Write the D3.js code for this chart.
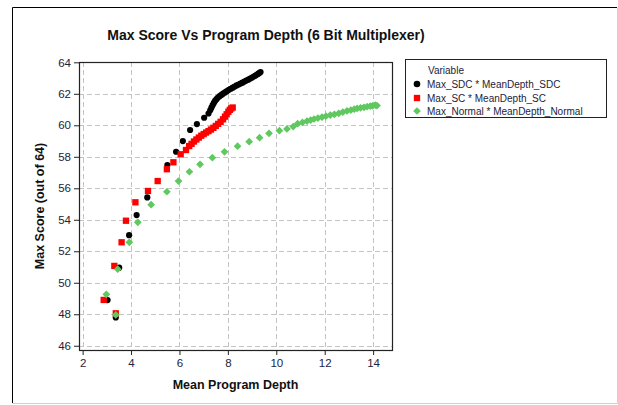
<!DOCTYPE html>
<html>
<head>
<meta charset="utf-8">
<script src="https://cdn.jsdelivr.net/npm/d3@7"></script>
<style>
body{margin:0;background:#fff;}
svg{display:block;}
</style>
</head>
<body>
<div class="chart-container"></div>
<script>
//////////////////////data//////////////////////
var title_text="Max Score Vs Program Depth (6 Bit Multiplexer)";
var xTicks=[2,4,6,8,10,12,14];
var yTicks=[46,48,50,52,54,56,58,60,62,64];
var legendTitle="Variable";
var seriesNames=["Max_SDC * MeanDepth_SDC","Max_SC * MeanDepth_SC","Max_Normal * MeanDepth_Normal"];

//SDC (black)
var sdc_x=[3.37,3.03,3.51,3.92,4.23,4.67,5.50,5.86,6.14,6.44,6.72,7.02,7.20,7.27,7.32,7.37,7.42,7.47,7.53,7.59,7.66,7.73,7.80,7.88,7.96,8.04,8.12,8.20,8.28,8.36,8.44,8.52,8.60,8.68,8.76,8.84,8.92,9.00,9.07,9.14,9.20,9.26,9.31,9.35];
var sdc_y=[47.80,48.90,50.96,53.02,54.30,55.42,57.48,58.32,59.00,59.70,60.08,60.48,60.75,60.95,61.12,61.28,61.42,61.55,61.66,61.76,61.85,61.93,62.01,62.09,62.17,62.25,62.32,62.39,62.46,62.53,62.59,62.65,62.71,62.78,62.84,62.90,62.97,63.03,63.10,63.16,63.22,63.28,63.33,63.38];
//SC (red)
var sc_x=[3.37,2.87,3.31,3.61,3.79,4.18,4.70,5.10,5.48,5.75,6.05,6.27,6.40,6.50,6.60,6.70,6.80,6.90,7.00,7.10,7.20,7.30,7.40,7.50,7.60,7.70,7.80,7.88,7.95,8.02,8.08,8.14,8.20];
var sc_y=[48.06,48.91,51.07,52.57,53.94,55.11,55.83,56.46,57.21,57.65,58.16,58.43,58.68,58.82,58.97,59.10,59.22,59.34,59.44,59.54,59.63,59.73,59.84,59.96,60.09,60.22,60.38,60.55,60.70,60.86,60.98,61.07,61.13];
//Normal (green)
var nrm_x=[3.37,2.98,3.45,3.93,4.28,4.83,5.48,5.96,6.41,6.85,7.36,7.86,8.40,8.88,9.31,9.70,10.13,10.44,10.70,10.88,11.08,11.27,11.42,11.56,11.72,11.89,12.05,12.23,12.40,12.58,12.75,12.92,13.08,13.22,13.34,13.48,13.62,13.75,13.88,13.98,14.09,14.16];
var nrm_y=[47.96,49.27,50.86,52.57,53.84,54.96,55.78,56.46,57.05,57.52,57.94,58.32,58.67,58.96,59.21,59.49,59.66,59.77,59.92,60.10,60.18,60.27,60.33,60.40,60.46,60.52,60.58,60.65,60.70,60.76,60.84,60.91,60.97,61.02,61.07,61.11,61.14,61.18,61.22,61.24,61.28,61.25];

//////////////////////draw//////////////////////
var W=618,H=405;
var x_min=79,x_max=392,y_min=62,y_max=350;
var txtColor="#23233a";
var fontFam="'Liberation Sans',Arial,sans-serif";
var greenCol="#5fc85f";

var svg=d3.select(".chart-container").append("svg").attr("width",W).attr("height",H);

//outer frame
svg.append("line").attr("x1",12.5).attr("y1",7.5).attr("x2",617).attr("y2",7.5).attr("stroke","#000");
svg.append("line").attr("x1",12.5).attr("y1",7.5).attr("x2",12.5).attr("y2",403).attr("stroke","#000");
svg.append("line").attr("x1",617.5).attr("y1",7.5).attr("x2",617.5).attr("y2",403.5).attr("stroke","#d0d0d0");
svg.append("line").attr("x1",12.5).attr("y1",403.5).attr("x2",617.5).attr("y2",403.5).attr("stroke","#d0d0d0");

var xScale=d3.scaleLinear().domain([1.85,14.78]).range([x_min,x_max]);
var yScale=d3.scaleLinear().domain([45.73,64.02]).range([y_max,y_min]);

//grid
var grid=svg.append("g");
xTicks.forEach(function(t){
    grid.append("line").attr("x1",Math.round(xScale(t))+0.5).attr("x2",Math.round(xScale(t))+0.5)
    .attr("y1",y_min).attr("y2",y_max).attr("stroke","#c4c4c4").attr("stroke-dasharray","5,3");
});
yTicks.forEach(function(t){
    grid.append("line").attr("y1",Math.round(yScale(t))+0.5).attr("y2",Math.round(yScale(t))+0.5)
    .attr("x1",x_min).attr("x2",x_max).attr("stroke","#c4c4c4").attr("stroke-dasharray","5,3");
});

//axes
var xAxis=d3.axisBottom(xScale).tickValues(xTicks).tickSize(5).tickPadding(4);
var yAxis=d3.axisLeft(yScale).tickValues(yTicks).tickSize(5).tickPadding(3);
var gx=svg.append("g").attr("transform","translate(0,"+y_max+")").call(xAxis);
var gy=svg.append("g").attr("transform","translate("+x_min+",0)").call(yAxis);
[gx,gy].forEach(function(g){
    g.select(".domain").remove();
    g.selectAll("line").attr("stroke","#222");
    g.selectAll("text").attr("fill",txtColor).style("font-family",fontFam).style("font-size","11.5px");
});

//plot border
svg.append("rect").attr("x",x_min+0.5).attr("y",y_min+0.5).attr("width",x_max-x_min).attr("height",y_max-y_min)
.attr("fill","none").attr("stroke","#222").attr("stroke-width",1.2);

//points
var plot=svg.append("g");
var sdc=sdc_x.map(function(v,i){return [v,sdc_y[i]];});
var sc=sc_x.map(function(v,i){return [v,sc_y[i]];});
var nrm=nrm_x.map(function(v,i){return [v,nrm_y[i]];});
var sqSym=d3.symbol().type(d3.symbolSquare).size(40);
var dmSym=d3.symbol().type(d3.symbolSquare).size(30);//rotated 45deg

plot.append("g").selectAll("circle").data(sdc).enter().append("circle")
.attr("cx",function(d){return xScale(d[0]);})
.attr("cy",function(d){return yScale(d[1]);})
.attr("r",3.1).attr("fill","#000");

plot.append("g").selectAll("path").data(sc).enter().append("path")
.attr("d",sqSym)
.attr("transform",function(d){return "translate("+xScale(d[0])+","+yScale(d[1])+")";})
.attr("fill","#ff0000");

plot.append("g").selectAll("path").data(nrm).enter().append("path")
.attr("d",dmSym)
.attr("transform",function(d){return "translate("+xScale(d[0])+","+yScale(d[1])+") rotate(45)";})
.attr("fill",greenCol);

//title, axis labels
svg.append("text").attr("x",266).attr("y",40).attr("text-anchor","middle")
.style("font-family",fontFam).style("font-weight","bold").style("font-size","14px").attr("fill","#111")
.text(title_text);
svg.append("text").attr("x",(x_min+x_max)/2).attr("y",389).attr("text-anchor","middle")
.style("font-family",fontFam).style("font-weight","bold").style("font-size","12.5px").attr("fill","#111")
.text("Mean Program Depth");
svg.append("text").attr("transform","translate(44,"+((y_min+y_max)/2)+") rotate(-90)").attr("text-anchor","middle")
.style("font-family",fontFam).style("font-weight","bold").style("font-size","12.5px").attr("fill","#111")
.text("Max Score (out of 64)");

//legend
var lg=svg.append("g");
lg.append("rect").attr("x",405.5).attr("y",59.5).attr("width",201).attr("height",58)
.attr("fill","#fff").attr("stroke","#222");
lg.append("text").attr("x",428).attr("y",74).text(legendTitle)
.style("font-family",fontFam).style("font-size","10px").attr("fill",txtColor);
var rowY=[84,98,111];
lg.append("circle").attr("cx",417).attr("cy",rowY[0]).attr("r",3.3).attr("fill","#000");
lg.append("path").attr("d",sqSym).attr("transform","translate(417,"+rowY[1]+")").attr("fill","#ff0000");
lg.append("path").attr("d",dmSym).attr("transform","translate(417,"+rowY[2]+") rotate(45)").attr("fill",greenCol);
seriesNames.forEach(function(s,i){
    lg.append("text").attr("x",427).attr("y",rowY[i]+3.5).text(s)
    .style("font-family",fontFam).style("font-size","10px").attr("fill",txtColor);
});
</script>
</body>
</html>
